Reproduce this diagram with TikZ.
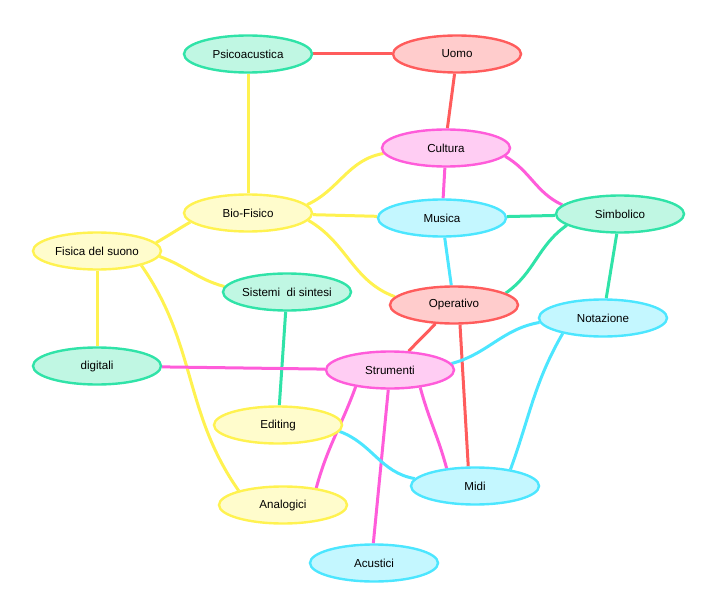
\documentclass[tikz,border=0pt]{standalone}
\usepackage{fontspec}
\setmainfont{Liberation Sans}
\usetikzlibrary{shapes.geometric}
\pgfdeclarelayer{bg}
\pgfsetlayers{bg,main}
\definecolor{redS}{HTML}{FF5C5C}\definecolor{redF}{HTML}{FFCCCC}
\definecolor{grnS}{HTML}{30E3A8}\definecolor{grnF}{HTML}{C0F7E3}
\definecolor{yelS}{HTML}{FFF250}\definecolor{yelF}{HTML}{FFFCCC}
\definecolor{pnkS}{HTML}{FF5CDA}\definecolor{pnkF}{HTML}{FFCDF3}
\definecolor{cyaS}{HTML}{4CE6FF}\definecolor{cyaF}{HTML}{C4F7FF}
\tikzset{
  bub/.style={ellipse, minimum width=128pt, minimum height=37pt, inner sep=0pt, line width=2.4pt, font=\fontsize{11.6}{13}\selectfont},
  rednode/.style={bub, draw=redS, fill=redF},
  grnnode/.style={bub, draw=grnS, fill=grnF},
  yelnode/.style={bub, draw=yelS, fill=yelF},
  pnknode/.style={bub, draw=pnkS, fill=pnkF},
  cyanode/.style={bub, draw=cyaS, fill=cyaF},
  lnk/.style={line width=3pt},
  redL/.style={lnk, draw=redS}, grnL/.style={lnk, draw=grnS},
  yelL/.style={lnk, draw=yelS}, pnkL/.style={lnk, draw=pnkS},
  cyaL/.style={lnk, draw=cyaS}
}
\begin{document}
\begin{tikzpicture}[x=1pt,y=-1pt]
\useasboundingbox (0,0) rectangle (718,615);
\node[grnnode] (psico) at (248,54) {Psicoacustica};
\node[rednode] (uomo) at (457,54) {Uomo};
\node[pnknode] (cultura) at (446,148) {Cultura};
\node[yelnode] (bio) at (248,213) {Bio-Fisico};
\node[cyanode] (musica) at (442,218) {Musica};
\node[grnnode] (simb) at (620,214) {Simbolico};
\node[yelnode] (fisica) at (97,251) {Fisica del suono};
\node[grnnode] (sistemi) at (287,292) {Sistemi\ \ di sintesi};
\node[rednode] (oper) at (454,305) {Operativo};
\node[cyanode] (nota) at (603,318) {Notazione};
\node[grnnode] (digitali) at (97,366) {digitali};
\node[pnknode] (strum) at (390,370) {Strumenti};
\node[yelnode] (editing) at (278,425) {Editing};
\node[cyanode] (midi) at (475,486) {Midi};
\node[yelnode] (analog) at (283,505) {Analogici};
\node[cyanode] (acust) at (374,563) {Acustici};
\begin{pgfonlayer}{bg}
\draw[redL] (psico) -- (uomo);
\draw[yelL] (psico) -- (bio);
\draw[redL] (uomo.263) -- (cultura.86);
\draw[yelL] (bio.8) to[out=25,in=190] (cultura.185);
\draw[pnkL] (cultura) -- (musica);
\draw[pnkL] (cultura.-8) to[out=-30,in=155] (simb.171);
\draw[yelL] (bio) -- (musica);
\draw[yelL] (bio.-7) to[out=-30,in=160] (oper.172);
\draw[yelL] (bio.189) to[out=210,in=30] (fisica.8);
\draw[grnL] (musica) -- (simb);
\draw[cyaL] (musica) -- (oper);
\draw[grnL] (simb.192) to[out=215,in=35] (oper.13);
\draw[grnL] (simb) -- (nota);
\draw[yelL] (fisica.-5) to[out=-20,in=165] (sistemi.175);
\draw[yelL] (fisica) -- (digitali);
\draw[yelL] (fisica.-18) to[out=-55,in=125] (analog.162);
\draw[grnL] (sistemi) -- (editing);
\draw[redL] (oper) -- (strum);
\draw[redL] (oper.-73) -- (midi.109);
\draw[cyaL] (nota.184) to[out=190,in=15] (strum.6);
\draw[cyaL] (nota.201) to[out=-120,in=70] (midi.25);
\draw[pnkL] (digitali) -- (strum);
\draw[pnkL] (strum.206) to[out=-110,in=75] (analog.27);
\draw[pnkL] (strum.265) -- (acust.92);
\draw[pnkL] (strum.-30) to[out=-75,in=105] (midi.148);
\draw[cyaL] (editing.-6) to[out=-20,in=170] (midi.173);
\end{pgfonlayer}
\end{tikzpicture}
\end{document}
